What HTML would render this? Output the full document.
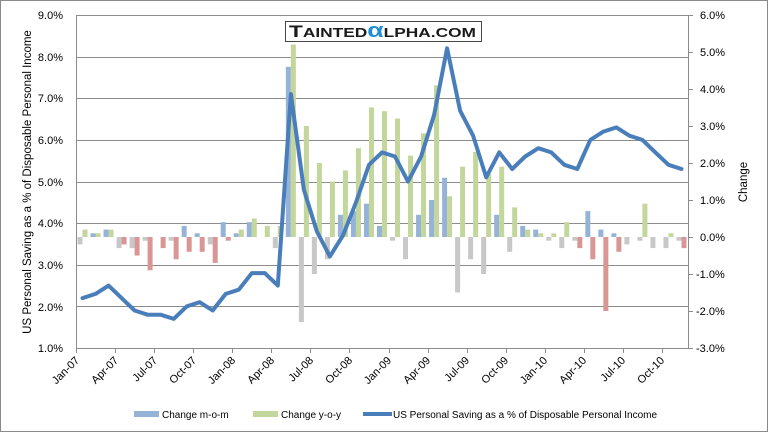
<!DOCTYPE html>
<html><head><meta charset="utf-8"><style>
html,body{margin:0;padding:0;background:#fff}
svg{display:block;font-family:"Liberation Sans",sans-serif}
</style></head><body>
<svg id="s" width="769" height="433" viewBox="0 0 769 433" xmlns="http://www.w3.org/2000/svg">
<rect x="0.5" y="0.5" width="767" height="431" fill="#fff" stroke="#8a8a8a"/>
<g id="grid" stroke="#8c8c8c" stroke-width="1"></g>
<g id="bars"></g>
<polyline id="ln" fill="none" stroke="#4a7ebb" stroke-width="4" stroke-linejoin="round" stroke-linecap="round"/>
<g stroke="#8c8c8c" fill="none">
<line x1="76.5" y1="15" x2="76.5" y2="349"/>
<line x1="688.5" y1="15" x2="688.5" y2="349"/>
</g>
<g id="ticks" stroke="#8c8c8c"></g>
<g font-size="11" fill="#000" text-anchor="end">
<text x="63" y="19">9.0%</text><text x="63" y="61">8.0%</text><text x="63" y="102">7.0%</text><text x="63" y="144">6.0%</text><text x="63" y="186">5.0%</text><text x="63" y="227">4.0%</text><text x="63" y="269">3.0%</text><text x="63" y="311">2.0%</text><text x="63" y="352">1.0%</text>
</g>
<g font-size="11" fill="#000" text-anchor="start">
<text x="700" y="19">6.0%</text><text x="700" y="56">5.0%</text><text x="700" y="93">4.0%</text><text x="700" y="130">3.0%</text><text x="700" y="167">2.0%</text><text x="700" y="204">1.0%</text><text x="700" y="241">0.0%</text><text x="696" y="278">-1.0%</text><text x="696" y="315">-2.0%</text><text x="696" y="352">-3.0%</text>
</g>
<text transform="translate(31,182) rotate(-90)" font-size="11.5" text-anchor="middle">US Personal Saving as a % of Disposable Personal Income</text>
<text transform="translate(747,182) rotate(-90)" font-size="11.5" text-anchor="middle">Change</text>
<g font-size="11" text-anchor="end">
<text transform="translate(80,361) rotate(-45)">Jan-07</text>
<text transform="translate(119,361) rotate(-45)">Apr-07</text>
<text transform="translate(158,361) rotate(-45)">Jul-07</text>
<text transform="translate(197,361) rotate(-45)">Oct-07</text>
<text transform="translate(236,361) rotate(-45)">Jan-08</text>
<text transform="translate(275,361) rotate(-45)">Apr-08</text>
<text transform="translate(314,361) rotate(-45)">Jul-08</text>
<text transform="translate(353,361) rotate(-45)">Oct-08</text>
<text transform="translate(392,361) rotate(-45)">Jan-09</text>
<text transform="translate(431,361) rotate(-45)">Apr-09</text>
<text transform="translate(470,361) rotate(-45)">Jul-09</text>
<text transform="translate(509,361) rotate(-45)">Oct-09</text>
<text transform="translate(548,361) rotate(-45)">Jan-10</text>
<text transform="translate(587,361) rotate(-45)">Apr-10</text>
<text transform="translate(626,361) rotate(-45)">Jul-10</text>
<text transform="translate(665,361) rotate(-45)">Oct-10</text>
</g>
<rect x="285.5" y="21.5" width="196" height="20" fill="#fff" stroke="#444"/>
<text x="289" y="37" font-size="17" font-weight="bold" fill="#1a1a1a" textLength="187" lengthAdjust="spacingAndGlyphs">T<tspan font-size="13">AINTED</tspan><tspan fill="#1e8fd8" font-size="20">α</tspan><tspan font-size="13">LPHA.COM</tspan></text>
<rect x="134" y="411" width="25" height="6" fill="#95b3d7"/>
<text x="162" y="418" font-size="10">Change m-o-m</text>
<rect x="253" y="411" width="25" height="6" fill="#c3d69b"/>
<text x="281" y="418" font-size="10">Change y-o-y</text>
<line x1="363" y1="414" x2="392" y2="414" stroke="#4a7ebb" stroke-width="4"/>
<text x="393" y="418" font-size="10">US Personal Saving as a % of Disposable Personal Income</text>
</svg>
<script>
var NS="http://www.w3.org/2000/svg";
function el(p,t,a){var e=document.createElementNS(NS,t);for(var k in a)e.setAttribute(k,a[k]);p.appendChild(e);return e;}
var g=document.getElementById('grid');
for(var i=0;i<9;i++){var y=Math.round(15+i*41.625)+0.5;el(g,'line',{x1:76,x2:688,y1:y,y2:y});}
var tk=document.getElementById('ticks');
var w=612/47;
for(var i=0;i<=47;i+=3){var x=Math.round(76+i*w)+0.5;el(tk,'line',{x1:x,x2:x,y1:348,y2:353});}
for(var y=0;y<=9;y++){var yy=Math.round(15+y*37)+0.5;el(tk,'line',{x1:688,x2:693,y1:yy,y2:yy});}
var line=[2.2,2.3,2.5,2.2,1.9,1.8,1.8,1.7,2.0,2.1,1.9,2.3,2.4,2.8,2.8,2.5,7.1,4.8,3.8,3.2,3.7,4.5,5.4,5.7,5.6,5.0,5.6,6.6,8.2,6.7,6.1,5.1,5.7,5.3,5.6,5.8,5.7,5.4,5.3,6.0,6.2,6.3,6.1,6.0,5.7,5.4,5.3];
var mom=[-0.2,0.1,0.2,-0.3,-0.3,-0.1,0,-0.1,0.3,0.1,-0.2,0.4,0.1,0.4,0,-0.3,4.6,-2.3,-1.0,-0.6,0.6,0.7,0.9,0.3,-0.1,-0.6,0.6,1.0,1.6,-1.5,-0.6,-1.0,0.6,-0.4,0.3,0.2,-0.1,-0.3,-0.1,0.7,0.2,0.1,-0.2,-0.1,-0.3,-0.3,-0.1];
var yoy=[0.2,0.1,0.2,-0.2,-0.5,-0.9,-0.3,-0.6,-0.4,-0.4,-0.7,-0.1,0.2,0.5,0.3,0.3,5.2,3.0,2.0,1.5,1.8,2.4,3.5,3.4,3.2,2.2,2.8,4.1,1.1,1.9,2.3,1.7,1.9,0.8,0.2,0.1,0.1,0.4,-0.3,-0.6,-2.0,-0.4,0,0.9,0,0.1,-0.3];
var b=document.getElementById('bars');var z=237;
function bar(x,v,pc,nc){if(!v)return;var h=Math.abs(v)*37;el(b,'rect',{x:x,width:5,y:v>0?z-h:z,height:h,fill:v>0?pc:nc});}
for(var i=0;i<47;i++){var x0=76+i*w;bar(x0+1.5,mom[i],'#95b3d7','#c8c8c8');bar(x0+6.5,yoy[i],'#c3d69b','#d99694');}
var pts=line.map(function(v,i){return (76+(i+0.5)*w).toFixed(1)+','+(15+(9-v)*41.625).toFixed(1);});
document.getElementById('ln').setAttribute('points',pts.join(' '));
</script>
</body></html>
